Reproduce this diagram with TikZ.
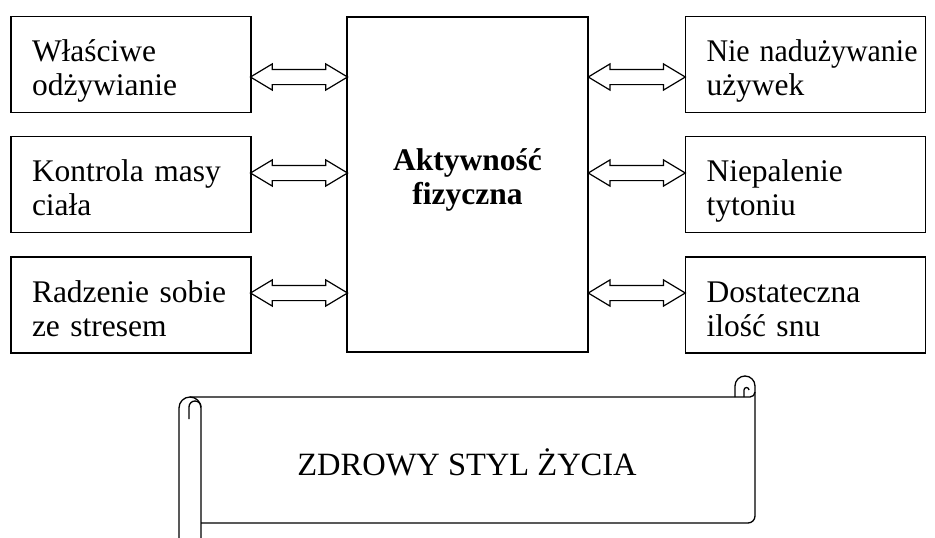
\documentclass[tikz,border=0pt]{standalone}
\usepackage{fontspec}
\setmainfont{Liberation Serif}
\usetikzlibrary{shapes.arrows}
\begin{document}
\begin{tikzpicture}[
    x=1pt, y=-1pt,
    every node/.style={font=\fontsize{31.5}{34}\selectfont},
    habit/.style={rectangle, draw, line width=1.3pt, minimum width=240pt, minimum height=96pt,
        inner xsep=21pt, text width=198pt, align=left,
        execute at begin node=\rule{0pt}{38pt}, execute at end node=\rule[-10pt]{0pt}{0pt}},
    core/.style={rectangle, draw, line width=1.3pt, minimum width=241pt, minimum height=335pt,
        align=center, execute at end node=\rule[-16pt]{0pt}{0pt}},
    dblarrow/.style={double arrow, draw, line width=1.2pt, inner xsep=0pt, inner ysep=7pt,
        minimum width=0pt, minimum height=97pt, double arrow head extend=5.5pt, double arrow tip angle=62},
    scroll/.style={line width=1.3pt, line join=round}
]
    \useasboundingbox (0,0) rectangle (935,538);

    % Central box
    \node[core] (act) at (467.5,184.5) {\textbf{Aktywność}\\\textbf{fizyczna}};

    % Left column
    \node[habit] (diet) at (131,64.5) {Właściwe\\odżywianie};
    \node[habit] (mass) at (131,184.5) {\mbox{Kontrola masy}\\ciała};
    \node[habit] (stress) at (131,305) {\mbox{Radzenie sobie}\\\mbox{ze stresem}};

    % Right column
    \node[habit] (drugs) at (805.5,64.5) {\scalebox{0.95}[1]{Nie nadużywanie}\\używek};
    \node[habit] (smoke) at (805.5,184.5) {Niepalenie\\tytoniu};
    \node[habit] (sleep) at (805.5,305) {Dostateczna\\\mbox{ilość snu}};

    % Double arrows
    \path (diet.east |- 0,77) -- node[dblarrow] {} (act.west |- 0,77);
    \path (mass.east |- 0,173) -- node[dblarrow] {} (act.west |- 0,173);
    \path (stress.east |- 0,293) -- node[dblarrow] {} (act.west |- 0,293);
    \path (act.east |- 0,77) -- node[dblarrow] {} (drugs.west |- 0,77);
    \path (act.east |- 0,173) -- node[dblarrow] {} (smoke.west |- 0,173);
    \path (act.east |- 0,293) -- node[dblarrow] {} (sleep.west |- 0,293);

    % Scroll
    \draw[scroll] (179,538) -- (179,408) arc[start angle=180, end angle=360, radius=11] -- (201,538);
    \draw[scroll] (189,419) -- (189,407) arc[start angle=180, end angle=360, radius=6];
    \draw[scroll] (190,397) -- (750,397) arc[start angle=90, end angle=0, radius=5];
    \draw[scroll] (735,397) -- (735,386) arc[start angle=180, end angle=360, radius=10] -- (755,516)
        arc[start angle=0, end angle=90, radius=7] -- (201,523);
    \draw[scroll] (744,397) -- (744,390) arc[start angle=180, end angle=360, radius=2.5];
    \node[font=\fontsize{32.5}{34}\selectfont] (title) at (467,462) {ZDROWY STYL ŻYCIA};

\end{tikzpicture}
\end{document}
